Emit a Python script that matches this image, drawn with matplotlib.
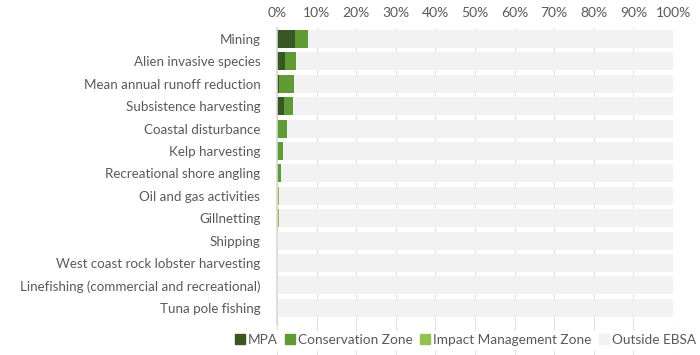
import matplotlib
matplotlib.use("Agg")
import matplotlib.pyplot as plt
from matplotlib.lines import Line2D

categories = [
    "Mining",
    "Alien invasive species",
    "Mean annual runoff reduction",
    "Subsistence harvesting",
    "Coastal disturbance",
    "Kelp harvesting",
    "Recreational shore angling",
    "Oil and gas activities",
    "Gillnetting",
    "Shipping",
    "West coast rock lobster harvesting",
    "Linefishing (commercial and recreational)",
    "Tuna pole fishing",
]
mpa = [4.6, 2.1, 0.6, 1.8, 0.0, 0.0, 0.0, 0.0, 0.0, 0.0, 0.0, 0.0, 0.0]
conservation = [3.2, 2.6, 3.6, 2.2, 2.4, 1.6, 0.9, 0.0, 0.0, 0.0, 0.0, 0.0, 0.0]
impact = [0.0, 0.0, 0.0, 0.0, 0.0, 0.0, 0.0, 0.4, 0.4, 0.0, 0.0, 0.0, 0.0]
series_names = ["MPA", "Conservation Zone", "Impact Management Zone", "Outside EBSA"]
xticks = list(range(0, 101, 10))
xtick_labels = [f"{t}%" for t in xticks]

outside = [100 - a - b - c for a, b, c in zip(mpa, conservation, impact)]
colors = ["#385723", "#5f9a34", "#93c152", "#f2f2f2"]
text_color = "#595959"

plt.rcParams["font.family"] = ["Lato", "DejaVu Sans"]

fig = plt.figure(figsize=(7.0, 3.55), dpi=100)
ax = fig.add_axes([277 / 700, 0.0, 396 / 700, 1 - 27.8 / 355])

y = list(range(len(categories)))
h = 0.8
left = [0.0] * len(categories)
for vals, col in zip([mpa, conservation, impact, outside], colors):
    ax.barh(y, vals, left=left, height=h, color=col, zorder=2)
    left = [l + v for l, v in zip(left, vals)]

ax.set_xlim(0, 100)
px_per_unit = 22.4
total_units = (355 - 27.8) / px_per_unit
ax.set_ylim(-0.5 + total_units, -0.5)

ax.set_xticks(xticks)
ax.set_xticklabels(xtick_labels)
ax.xaxis.tick_top()
ax.tick_params(axis="x", length=0, pad=6, labelsize=10, labelcolor=text_color)
ax.set_yticks(y)
ax.set_yticklabels(categories)
ax.tick_params(axis="y", length=0, pad=12, labelsize=9.6, labelcolor=text_color)

ax.grid(axis="x", color="#e3e3e3", linewidth=0.8, zorder=0)
ax.set_axisbelow(True)
for s in ["top", "right", "bottom"]:
    ax.spines[s].set_visible(False)
ax.spines["left"].set_color("#d9d9d9")
ax.spines["left"].set_linewidth(1.2)
ax.spines["left"].set_bounds(12.77, -0.5)
ax.spines["left"].set_zorder(3)

handles = [Line2D([0], [0], marker="s", linestyle="none", markersize=6.5,
                  markerfacecolor=c, markeredgecolor=c) for c in colors]
leg = fig.legend(handles, series_names, loc="center", bbox_to_anchor=(466 / 700, 1 - 340 / 355),
                 ncol=4, frameon=True, fontsize=9.8, handletextpad=0.3, columnspacing=0.6,
                 borderpad=0.2, handlelength=0.6)
leg.get_frame().set_facecolor("white")
leg.get_frame().set_edgecolor("white")
leg.get_frame().set_alpha(1.0)
for t in leg.get_texts():
    t.set_color(text_color)

fig.savefig("out.png", dpi=100)
